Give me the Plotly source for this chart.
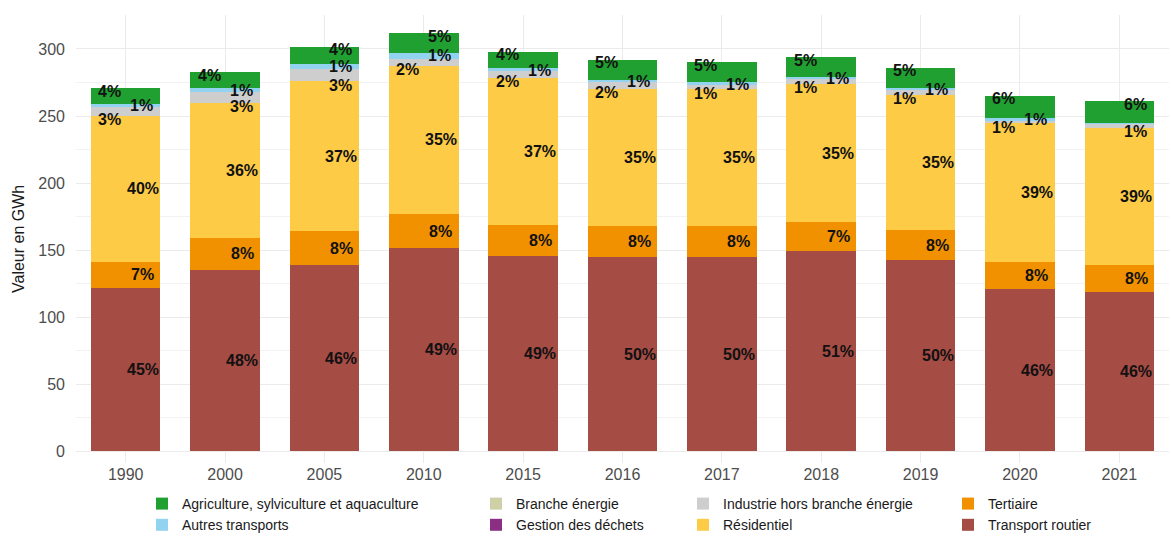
import plotly.graph_objects as go

# ---------------- data ----------------
years = ["1990", "2000", "2005", "2010", "2015", "2016", "2017", "2018", "2019", "2020", "2021"]

transport_routier = [121.6, 135.5, 139.0, 151.4, 145.5, 145.2, 145.2, 149.2, 142.5, 121.0, 118.9]
tertiaire         = [19.9, 23.5, 25.0, 25.8, 23.5, 22.9, 22.9, 21.5, 22.6, 20.2, 19.8]
residentiel       = [108.6, 101.0, 112.0, 110.4, 109.5, 102.1, 101.9, 103.5, 100.6, 103.4, 102.4]
gestion_dechets   = [0, 0, 0, 0, 0, 0, 0, 0, 0, 0, 0]
industrie         = [7.0, 8.0, 8.8, 4.9, 4.8, 5.0, 3.5, 3.2, 3.7, 2.0, 3.7]
branche_energie   = [0, 0, 0, 0, 0, 0, 0, 0, 0, 0, 0]
autres_transports = [1.9, 2.8, 3.7, 4.3, 2.2, 1.7, 1.7, 1.7, 1.8, 2.2, 0.2]
agriculture       = [11.8, 12.0, 13.2, 14.9, 12.5, 15.1, 14.9, 14.7, 14.9, 16.2, 15.9]

# ---------------- styles ----------------
FONT = "Liberation Sans, Arial, sans-serif"
# stacking order: bottom -> top
series = [
    ("Transport routier", transport_routier, "#A54C45", "legend4"),
    ("Tertiaire", tertiaire, "#F29100", "legend4"),
    ("Résidentiel", residentiel, "#FDCB45", "legend3"),
    ("Gestion des déchets", gestion_dechets, "#8B2F82", "legend2"),
    ("Industrie hors branche énergie", industrie, "#CECECE", "legend3"),
    ("Branche énergie", branche_energie, "#CFCFA8", "legend2"),
    ("Autres transports", autres_transports, "#92D3F0", "legend"),
    ("Agriculture, sylviculture et aquaculture", agriculture, "#20A030", "legend"),
]

# label side (-1 left, +1 right) for the small top segments: agriculture, autres, industrie
top_sides = {
    "1990": (-1, 1, -1), "2000": (-1, 1, 1), "2005": (1, 1, 1), "2010": (1, 1, -1),
    "2021": (1, 1, 1),
}
default_sides = (-1, 1, -1)
SIDE_PX = 16

fig = go.Figure()
for name, vals, color, leg in series:
    fig.add_trace(go.Bar(
        x=years, y=vals, name=name, marker=dict(color=color, line=dict(width=0)),
        legend=leg, hovertemplate="%{x}: %{y} GWh<extra>" + name + "</extra>",
    ))

# ---------------- percentage labels ----------------
annotations = []
for i, yr in enumerate(years):
    total = sum(s[1][i] for s in series)
    cum = 0.0
    bounds = {}
    for name, vals, _, _ in series:
        bounds[name] = (cum, cum + vals[i])
        cum += vals[i]
    sides = top_sides.get(yr, default_sides)
    for name, vals, _, _ in series:
        pct = int(vals[i] / total * 100 + 0.5)
        if pct < 1:
            continue
        lo, hi = bounds[name]
        if name.startswith("Agriculture"):
            y, xs, ys = hi, sides[0] * SIDE_PX, -3
        elif name == "Autres transports":
            y, xs, ys = hi, sides[1] * SIDE_PX, -2
        elif name.startswith("Industrie"):
            y, xs, ys = lo, sides[2] * SIDE_PX, -4
        else:
            y, xs, ys = (lo + hi) / 2, 17, 0
        annotations.append(dict(
            x=i, y=y, xref="x", yref="y", text=f"{pct}%", showarrow=False,
            xshift=xs, yshift=ys, xanchor="center", yanchor="middle",
            font=dict(family=FONT, size=16, color="#111111", weight="bold"),
        ))

# y-axis title (placed as rotated text left of the tick labels)
annotations.append(dict(
    text="Valeur en GWh", xref="paper", yref="paper", x=-58 / 1093, y=0.5,
    xanchor="center", yanchor="middle", textangle=-90, showarrow=False,
    font=dict(family=FONT, size=16, color="#1A1A1A"),
))

legend_common = dict(
    xref="container", yref="container", xanchor="left", yanchor="top",
    orientation="v", traceorder="reversed", bgcolor="rgba(0,0,0,0)",
    font=dict(family=FONT, size=14, color="#1A1A1A"), tracegroupgap=0,
)
legend_top = 1 - 488 / 536

fig.update_layout(
    width=1171, height=536,
    barmode="stack", bargap=0.3,
    plot_bgcolor="white", paper_bgcolor="white",
    margin=dict(l=76, r=2, t=15, b=73, autoexpand=False),
    font=dict(family=FONT, size=16, color="#4D4D4D"),
    annotations=annotations,
    xaxis=dict(
        type="category", range=[-0.5, len(years) - 0.5],
        showgrid=True, gridcolor="#EBEBEB", gridwidth=1,
        tickfont=dict(family=FONT, size=16, color="#4D4D4D"),
        showline=False, zeroline=False, ticks="",
    ),
    yaxis=dict(
        range=[-8.6, 325.3], tickmode="linear", tick0=0, dtick=50,
        showgrid=True, gridcolor="#EBEBEB", gridwidth=1,
        minor=dict(dtick=25, showgrid=True, gridcolor="#F2F2F2", gridwidth=0.7),
        tickfont=dict(family=FONT, size=16, color="#4D4D4D"),
        ticklabelstandoff=10,
        showline=False, zeroline=False, ticks="",
    ),
    legend=dict(legend_common, x=142 / 1171, y=legend_top),
    legend2=dict(legend_common, x=476 / 1171, y=legend_top),
    legend3=dict(legend_common, x=683 / 1171, y=legend_top),
    legend4=dict(legend_common, x=948 / 1171, y=legend_top),
)

fig.write_html("out.html", config={"displayModeBar": False},
               post_script="document.body.style.margin='0';")
